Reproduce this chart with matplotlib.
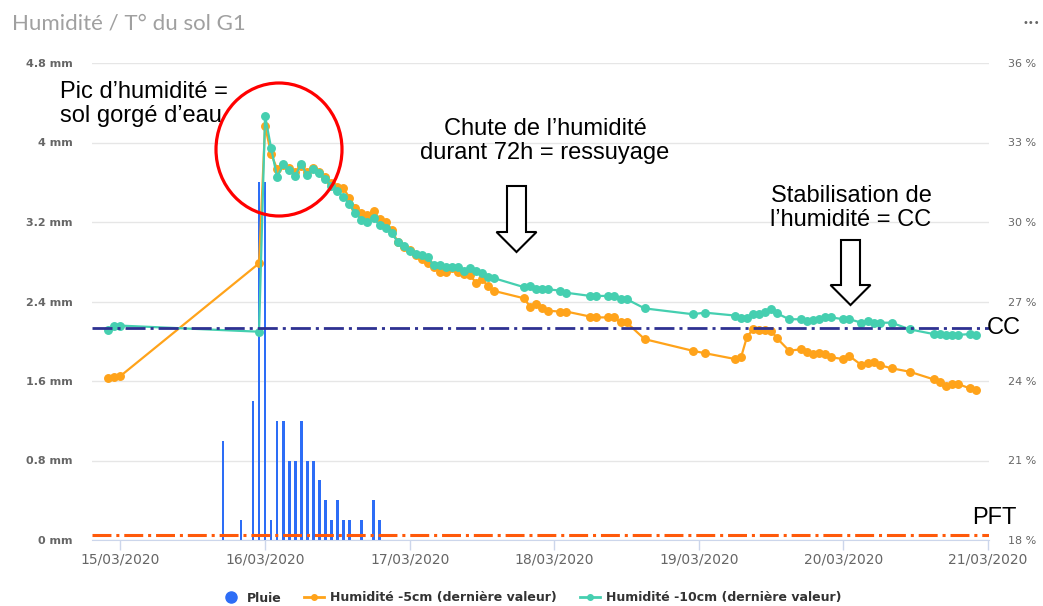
import matplotlib
matplotlib.use('Agg')
import matplotlib.pyplot as plt
import matplotlib.dates as mdates
import pandas as pd
from matplotlib.patches import Ellipse, Polygon
from matplotlib.lines import Line2D

# ---------------- data ----------------
hum_times = [
    "2020-03-14 22:00", "2020-03-14 23:00", "2020-03-15 00:00", "2020-03-15 23:00",
    "2020-03-16 00:00", "2020-03-16 01:00", "2020-03-16 02:00", "2020-03-16 03:00",
    "2020-03-16 04:00", "2020-03-16 05:00", "2020-03-16 06:00", "2020-03-16 07:00",
    "2020-03-16 08:00", "2020-03-16 09:00", "2020-03-16 10:00", "2020-03-16 11:00",
    "2020-03-16 12:00", "2020-03-16 13:00", "2020-03-16 14:00", "2020-03-16 15:00",
    "2020-03-16 16:00", "2020-03-16 17:00", "2020-03-16 18:00", "2020-03-16 19:00",
    "2020-03-16 20:00", "2020-03-16 21:00", "2020-03-16 22:00", "2020-03-16 23:00",
    "2020-03-17 00:00", "2020-03-17 01:00", "2020-03-17 02:00", "2020-03-17 03:00",
    "2020-03-17 04:00", "2020-03-17 05:00", "2020-03-17 06:00", "2020-03-17 07:00",
    "2020-03-17 08:00", "2020-03-17 09:00", "2020-03-17 10:00", "2020-03-17 11:00",
    "2020-03-17 12:00", "2020-03-17 13:00", "2020-03-17 14:00", "2020-03-17 19:00",
    "2020-03-17 20:00", "2020-03-17 21:00", "2020-03-17 22:00", "2020-03-17 23:00",
    "2020-03-18 01:00", "2020-03-18 02:00", "2020-03-18 06:00", "2020-03-18 07:00",
    "2020-03-18 09:00", "2020-03-18 10:00", "2020-03-18 11:00", "2020-03-18 12:00",
    "2020-03-18 15:00", "2020-03-18 23:00", "2020-03-19 01:00", "2020-03-19 06:00",
    "2020-03-19 07:00", "2020-03-19 08:00", "2020-03-19 09:00", "2020-03-19 10:00",
    "2020-03-19 11:00", "2020-03-19 12:00", "2020-03-19 13:00", "2020-03-19 15:00",
    "2020-03-19 17:00", "2020-03-19 18:00", "2020-03-19 19:00", "2020-03-19 20:00",
    "2020-03-19 21:00", "2020-03-19 22:00", "2020-03-20 00:00", "2020-03-20 01:00",
    "2020-03-20 03:00", "2020-03-20 04:00", "2020-03-20 05:00", "2020-03-20 06:00",
    "2020-03-20 08:00", "2020-03-20 11:00", "2020-03-20 15:00", "2020-03-20 16:00",
    "2020-03-20 17:00", "2020-03-20 18:00", "2020-03-20 19:00", "2020-03-20 21:00",
    "2020-03-20 22:00",
]

hum_5cm = [
    24.12, 24.16, 24.19, 28.44, 33.63, 32.57, 32.00, 32.15, 32.02, 31.89,
    32.11, 31.89, 32.04, 31.89, 31.70, 31.47, 31.31, 31.28, 30.91, 30.51,
    30.35, 30.26, 30.43, 30.10, 30.01, 29.70, 29.26, 29.06, 28.94, 28.75,
    28.60, 28.44, 28.32, 28.12, 28.12, 28.25, 28.12, 28.04, 28.00, 27.71,
    27.84, 27.58, 27.40, 27.12, 26.80, 26.91, 26.74, 26.65, 26.62, 26.62,
    26.43, 26.40, 26.40, 26.40, 26.21, 26.21, 25.58, 25.14, 25.05, 24.83,
    24.89, 25.67, 25.95, 25.92, 25.92, 25.90, 25.61, 25.14, 25.20, 25.11,
    25.02, 25.07, 25.02, 24.89, 24.83, 24.94, 24.60, 24.67, 24.73, 24.60,
    24.48, 24.35, 24.06, 23.97, 23.81, 23.89, 23.89, 23.72, 23.66,
]

hum_10cm = [
    25.92, 26.08, 26.09, 25.86, 34.00, 32.80, 31.69, 32.18, 31.96, 31.75,
    32.18, 31.77, 32.00, 31.86, 31.63, 31.36, 31.16, 30.95, 30.67, 30.33,
    30.08, 30.01, 30.14, 29.89, 29.79, 29.58, 29.26, 29.11, 28.92, 28.80,
    28.75, 28.67, 28.36, 28.36, 28.29, 28.29, 28.31, 28.16, 28.25, 28.16,
    28.09, 27.94, 27.88, 27.54, 27.58, 27.46, 27.46, 27.46, 27.41, 27.33,
    27.21, 27.21, 27.21, 27.21, 27.09, 27.09, 26.74, 26.52, 26.58, 26.47,
    26.39, 26.39, 26.52, 26.52, 26.62, 26.71, 26.55, 26.33, 26.33, 26.26,
    26.30, 26.34, 26.40, 26.40, 26.33, 26.33, 26.20, 26.26, 26.20, 26.20,
    26.20, 25.95, 25.77, 25.77, 25.74, 25.74, 25.74, 25.77, 25.74,
]

rain_times = [
    "2020-03-15 17:00", "2020-03-15 20:00", "2020-03-15 22:00", "2020-03-15 23:00",
    "2020-03-16 00:00", "2020-03-16 01:00", "2020-03-16 02:00", "2020-03-16 03:00",
    "2020-03-16 04:00", "2020-03-16 05:00", "2020-03-16 06:00", "2020-03-16 07:00",
    "2020-03-16 08:00", "2020-03-16 09:00", "2020-03-16 10:00", "2020-03-16 11:00",
    "2020-03-16 12:00", "2020-03-16 13:00", "2020-03-16 14:00", "2020-03-16 16:00",
    "2020-03-16 18:00", "2020-03-16 19:00",
]
rain_mm = [1.0, 0.2, 1.4, 3.6, 3.6, 0.2, 1.2, 1.2, 0.8, 0.8, 1.2, 0.8, 0.8,
           0.6, 0.4, 0.2, 0.4, 0.2, 0.2, 0.2, 0.4, 0.2]

cc_level = 26.0      # %
pft_level = 18.2     # %

mm_ticks = [0, 0.8, 1.6, 2.4, 3.2, 4.0, 4.8]
mm_labels = ["0 mm", "0.8 mm", "1.6 mm", "2.4 mm", "3.2 mm", "4 mm", "4.8 mm"]
pct_ticks = [18, 21, 24, 27, 30, 33, 36]
pct_labels = ["18 %", "21 %", "24 %", "27 %", "30 %", "33 %", "36 %"]
date_ticks = ["2020-03-15", "2020-03-16", "2020-03-17", "2020-03-18",
              "2020-03-19", "2020-03-20", "2020-03-21"]

title = "Humidité / T° du sol G1"
legend_labels = ["Pluie", "Humidité -5cm (dernière valeur)", "Humidité -10cm (dernière valeur)"]

# ---------------- style ----------------
BLUE = '#2d6df6'
ORANGE = '#ffa31a'
GREEN = '#45cfb0'
GRAY = '#666666'
AXIS = '#ccd6eb'

W, H = 1043, 606
fig = plt.figure(figsize=(W / 100, H / 100), dpi=100)


def fx(px):
    return px / W


def fy(py):
    return 1 - py / H


ax = fig.add_axes([fx(92), fy(540), (989 - 92) / W, (540 - 63) / H])
ax2 = ax.twinx()

t_h = mdates.date2num(pd.to_datetime(hum_times).values)
t_r = mdates.date2num(pd.to_datetime(rain_times).values)

ax.bar(t_r, rain_mm, width=0.019, color=BLUE, linewidth=0, align='center', zorder=2)

ax2.plot(t_h, hum_5cm, color=ORANGE, lw=1.6, marker='o', ms=5.4, mec=ORANGE,
         mfc=ORANGE, zorder=3)
ax2.plot(t_h, hum_10cm, color=GREEN, lw=1.6, marker='o', ms=5.4, mec=GREEN,
         mfc=GREEN, zorder=4)

ax2.axhline(cc_level, color='#2e3192', lw=2, dashes=(7.2, 1.8, 1.1, 1.8), zorder=6)
ax2.axhline(pft_level, color='#ff5a0a', lw=2.2, dashes=(6.2, 1.6, 1.0, 1.6), zorder=6)

# axes
x0 = mdates.date2num(pd.Timestamp("2020-03-15"))
ax.set_xlim(x0 - 0.197, x0 + 6.007)
ax.set_ylim(0, 4.8)
ax2.set_ylim(18, 36)

ax.set_yticks(mm_ticks)
ax.set_yticklabels(mm_labels, fontweight='bold')
ax2.set_yticks(pct_ticks)
ax2.set_yticklabels(pct_labels)

ax.set_xticks(mdates.date2num(pd.to_datetime(date_ticks).values))
ax.xaxis.set_major_formatter(mdates.DateFormatter('%d/%m/%Y'))

ax.tick_params(axis='y', length=0, pad=14, labelsize=8, labelcolor=GRAY)
ax2.tick_params(axis='y', length=0, pad=14, labelsize=8, labelcolor=GRAY)
ax.tick_params(axis='x', length=7, width=1, color=AXIS, pad=2, labelsize=10,
               labelcolor=GRAY)

ax.yaxis.grid(True, color='#e6e6e6', lw=1)
ax.set_axisbelow(True)
for s in ['top', 'left', 'right']:
    ax.spines[s].set_visible(False)
ax.spines['bottom'].set_color(AXIS)
for s in ax2.spines.values():
    s.set_visible(False)

# title and menu dots
fig.text(fx(12), fy(23), title, fontsize=16, color='#a0a0a0', family='Lato',
         va='center', ha='left')
fig.text(fx(1031), fy(23), '•••', fontsize=7, color=GRAY, ha='center', va='center')

# legend
handles = [
    Line2D([], [], marker='o', color=BLUE, linestyle='none', markersize=8),
    Line2D([], [], color=ORANGE, marker='o', ms=4, lw=2),
    Line2D([], [], color=GREEN, marker='o', ms=4, lw=2),
]
fig.legend(handles, legend_labels, ncol=3, loc='center',
           bbox_to_anchor=(fx(531), fy(598)), frameon=False,
           prop=dict(weight='bold', size=9), labelcolor='#333333',
           handlelength=1.6, columnspacing=1.8, handletextpad=0.5)

# annotations
AF = dict(family='Liberation Sans', fontsize=17, color='black', linespacing=1.15)
fig.text(fx(60), fy(104), "Pic d’humidité =\nsol gorgé d’eau", ha='left', va='center', **AF)
fig.text(fx(545), fy(141), "Chute de l’humidité\ndurant 72h = ressuyage", ha='center',
         va='center', multialignment='center', **AF)
fig.text(fx(851), fy(208), "Stabilisation de\nl’humidité = CC", ha='center',
         va='center', multialignment='center', **AF)
fig.text(fx(987), fy(328), "CC", ha='left', va='center', **AF)
fig.text(fx(972), fy(518), "PFT", ha='left', va='center', **AF)

fig.add_artist(Ellipse((fx(279), fy(149.5)), 126 / W, 133 / H, fill=False,
                       edgecolor='#ff0000', lw=2.3, transform=fig.transFigure))


def hollow_arrow(cx, top, head_base, tip, shaft_w=19, head_w=40):
    pts = [(cx - shaft_w / 2, top), (cx + shaft_w / 2, top),
           (cx + shaft_w / 2, head_base), (cx + head_w / 2, head_base),
           (cx, tip), (cx - head_w / 2, head_base), (cx - shaft_w / 2, head_base)]
    pts = [(fx(x), fy(y)) for x, y in pts]
    fig.add_artist(Polygon(pts, closed=True, facecolor='white', edgecolor='black',
                           lw=1.5, transform=fig.transFigure))


hollow_arrow(516.5, 186, 232, 252)
hollow_arrow(850.5, 240, 285, 305)

fig.savefig('out.png', dpi=100)
